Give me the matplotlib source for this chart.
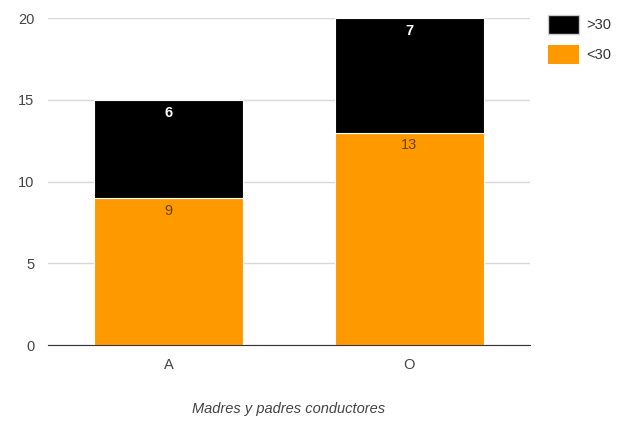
import matplotlib
matplotlib.use("Agg")
import matplotlib.pyplot as plt
from matplotlib.patches import Patch

plt.rcParams['font.family'] = ['Liberation Sans', 'DejaVu Sans']

categories = ["A", "O"]
under_30 = [9, 13]
over_30 = [6, 7]
series_labels = ["<30", ">30"]
colors = {"<30": "#ff9900", ">30": "#000000"}
yticks = [0, 5, 10, 15, 20]
xlabel = "Madres y padres conductores"

fig = plt.figure(figsize=(6.27, 4.21), dpi=100)
ax = fig.add_axes([0.0766, 0.1805, 0.7684, 0.7765])

x = list(range(len(categories)))
width = 0.62
b1 = ax.bar(x, under_30, width, color=colors["<30"], edgecolor="white", linewidth=0.8, zorder=3)
b2 = ax.bar(x, over_30, width, bottom=under_30, color=colors[">30"], edgecolor="white", linewidth=0.8, zorder=3)

for xi, lo, hi in zip(x, under_30, over_30):
    ax.text(xi, lo - 0.35, str(lo), ha="center", va="top", fontsize=10.5, color="#6b4200", zorder=4)
    ax.text(xi, lo + hi - 0.35, str(hi), ha="center", va="top", fontsize=10.5, color="white",
            fontweight="bold", zorder=4)

ax.set_xlim(-0.5, len(categories) - 0.5)
ax.set_ylim(0, 20)
ax.set_yticks(yticks)
ax.set_xticks(x)
ax.set_xticklabels(categories)
ax.tick_params(axis="both", length=0, labelsize=10.5, labelcolor="#444444")
ax.tick_params(axis="y", pad=10)
ax.tick_params(axis="x", pad=9)
ax.grid(axis="y", color="#d9d9d9", linewidth=1, zorder=0)
for s in ["top", "right", "left"]:
    ax.spines[s].set_visible(False)
ax.spines["bottom"].set_color("#333333")
ax.spines["bottom"].set_zorder(5)
ax.set_xlabel(xlabel, fontstyle="italic", fontsize=10.5, color="#444444", labelpad=22)

handles = [Patch(facecolor=colors[">30"], edgecolor="#cccccc"), Patch(facecolor=colors["<30"], edgecolor="none")]
fig.legend(handles, [">30", "<30"], loc="upper left", bbox_to_anchor=(0.853, 0.995), frameon=False,
           fontsize=10.5, labelcolor="#333333", handlelength=2.1, handleheight=1.6,
           handletextpad=0.5, labelspacing=0.75)

fig.savefig("out.png", dpi=100)
